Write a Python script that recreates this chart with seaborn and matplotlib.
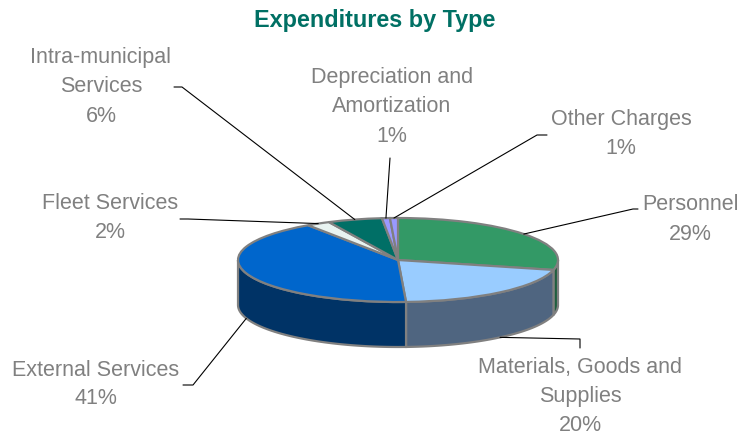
import numpy as np
import matplotlib
matplotlib.use("Agg")
import matplotlib.pyplot as plt
from matplotlib.patches import Polygon
import seaborn as sns

# ---------------- data ----------------
categories = ["Personnel", "Materials, Goods and\nSupplies", "External Services",
              "Fleet Services", "Intra-municipal\nServices",
              "Depreciation and\nAmortization", "Other Charges"]
shares = [28.8, 20.4, 41.3, 2.4, 5.5, 0.8, 0.8]
pct_labels = ["29%", "20%", "41%", "2%", "6%", "1%", "1%"]
top_colors = ["#339966", "#99CCFF", "#0066CC", "#E8F3F1", "#006F66", "#9999FF", "#9999FF"]
side_colors = ["#1E5E3E", "#4F6580", "#003366", "#B8C8C6", "#004440", "#6666CC", "#6666CC"]

# ---------------- layout (pixels in a 740x437 canvas) ----------------
W, H = 740, 437
CX, CY, RX, RY, DEPTH = 398, 260, 160, 42, 45
label_pos = [(690, 219.5), (580, 396.5), (96, 384.5), (110, 218), (101, 87), (392, 107), (621, 134.5)]
elbows = [[(633, 209), (638, 209)],
          [(580, 339), (580, 348)],
          [(193, 385), (183, 385)],
          [(188, 219), (180, 219)],
          [(182, 87), (174, 87)],
          [(390, 158)],
          [(537, 135), (547, 135)]]

sns.set_theme(style="white")
plt.rcParams["font.family"] = ["Liberation Sans", "DejaVu Sans"]


def to_data(px, py):
    return ((px - CX) / RX, (CY - py) / RY)


fig = plt.figure(figsize=(W / 100, H / 100), dpi=100)
ax = fig.add_axes([0, 0, 1, 1])

edge = "#808080"
d = DEPTH / RY

# top face
ax.pie(shares, colors=top_colors, startangle=90, counterclock=False, radius=1,
       center=(0, 0), wedgeprops=dict(edgecolor=edge, linewidth=1.6, zorder=3))

# side walls
total = float(sum(shares))
cum = np.concatenate([[0], np.cumsum(shares)]) / total * 360.0
for i in range(len(shares)):
    a0 = 90 - cum[i]
    a1 = 90 - cum[i + 1]
    lo, hi = max(a1, -180), min(a0, 0)
    if hi <= lo:
        continue
    t = np.radians(np.linspace(lo, hi, 80))
    top = np.column_stack([np.cos(t), np.sin(t)])
    bot = np.column_stack([np.cos(t), np.sin(t) - d])[::-1]
    ax.add_patch(Polygon(np.vstack([top, bot]), closed=True, facecolor=side_colors[i],
                         edgecolor=edge, linewidth=1.6, zorder=2))

# leader lines and labels
for i in range(len(shares)):
    a0 = 90 - cum[i]
    a1 = 90 - cum[i + 1]
    m = np.radians((a0 + a1) / 2)
    x0, y0 = np.cos(m), np.sin(m)
    if y0 < 0:
        y0 -= d
    pts = [(x0, y0)] + [to_data(*p) for p in elbows[i]]
    xs, ys = zip(*pts)
    ax.plot(xs, ys, color="black", linewidth=0.8, zorder=4)
    lx, ly = to_data(*label_pos[i])
    ax.text(lx, ly, f"{categories[i]}\n{pct_labels[i]}", ha="center", va="center",
            color="#808080", fontsize=15.5, linespacing=1.5, zorder=5)

ax.set_aspect("auto")
ax.set_xlim(-CX / RX, (W - CX) / RX)
ax.set_ylim(-(H - CY) / RY, CY / RY)
ax.axis("off")

fig.text(375 / W, 1 - 20 / H, "Expenditures by Type", ha="center", va="center",
         fontsize=16.8, fontweight="bold", color="#007064")

fig.savefig("out.png", dpi=100)
